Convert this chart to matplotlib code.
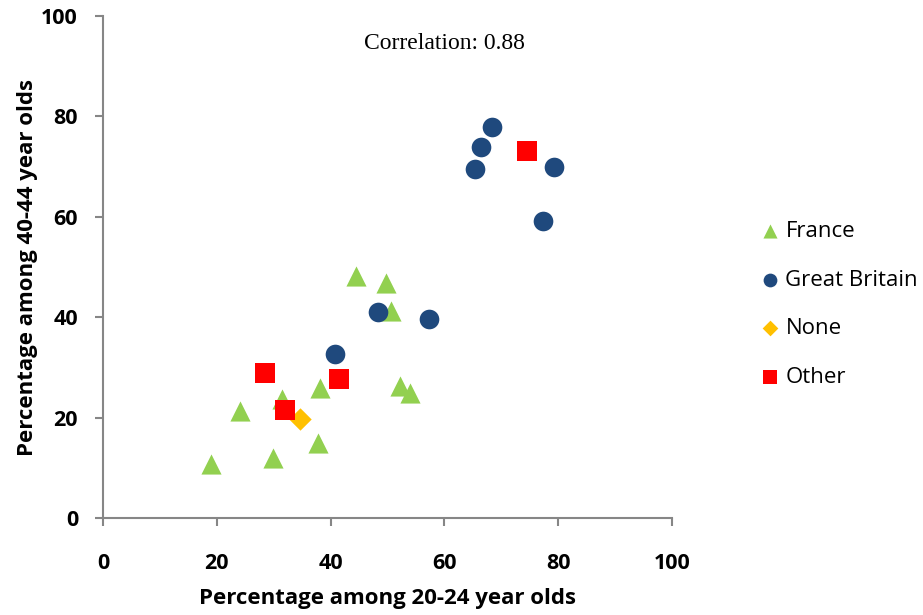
import matplotlib
matplotlib.use('Agg')
import matplotlib.pyplot as plt

# values
france_x = [18.9, 24.1, 29.8, 31.4, 37.8, 38.1, 44.5, 49.7, 50.6, 52.2, 54.0]
france_y = [10.8, 21.4, 11.9, 23.8, 15.0, 25.8, 48.2, 46.9, 41.3, 26.2, 25.0]

gb_x = [40.8, 48.3, 57.3, 65.4, 66.4, 68.4, 77.4, 79.2]
gb_y = [32.6, 41.1, 39.7, 69.5, 73.9, 77.9, 59.2, 69.9]

none_x = [34.6]
none_y = [19.7]

other_x = [28.5, 32.0, 41.4, 74.6]
other_y = [28.9, 21.5, 27.7, 73.2]

ticks = [0, 20, 40, 60, 80, 100]

plt.rcParams['font.family'] = ['Open Sans', 'DejaVu Sans']

fig = plt.figure(figsize=(9.23, 6.15), dpi=100)
ax = fig.add_axes([0.1116, 0.1577, 0.6164, 0.8163])

ax.scatter(france_x, france_y, marker='^', s=210, color='#92d050', linewidths=0, label='France', zorder=3)
ax.scatter(gb_x, gb_y, marker='o', s=200, color='#1f497d', linewidths=0, label='Great Britain', zorder=3)
ax.scatter(none_x, none_y, marker='D', s=130, color='#ffc000', linewidths=0, label='None', zorder=3)
ax.scatter(other_x, other_y, marker='s', s=200, color='#ff0000', linewidths=0, label='Other', zorder=4)

ax.set_xlim(0, 100)
ax.set_ylim(0, 100)
ax.set_xticks(ticks)
ax.set_yticks(ticks)

for side in ['top', 'right']:
    ax.spines[side].set_visible(False)
for side in ['left', 'bottom']:
    ax.spines[side].set_color('#868686')
    ax.spines[side].set_linewidth(1.5)
ax.tick_params(direction='out', length=6, width=1.5, color='#868686', labelsize=15.5)
ax.tick_params(axis='x', pad=19)
ax.tick_params(axis='y', pad=12)
for lbl in ax.get_xticklabels() + ax.get_yticklabels():
    lbl.set_fontweight('bold')

ax.set_xlabel('Percentage among 20-24 year olds', fontsize=16, fontweight='bold', labelpad=10)
ax.set_ylabel('Percentage among 40-44 year olds', fontsize=16, fontweight='bold', labelpad=2)

ax.text(0.6, 0.946, 'Correlation: 0.88', transform=ax.transAxes, ha='center', va='center',
        fontsize=17, family='Liberation Serif')

fig.legend(loc='center left', bbox_to_anchor=(0.81, 0.505), frameon=False, fontsize=16,
           handletextpad=0.2, labelspacing=1.25, markerscale=0.7, borderpad=0, handlelength=1.0)

fig.savefig('out.png', dpi=100)
